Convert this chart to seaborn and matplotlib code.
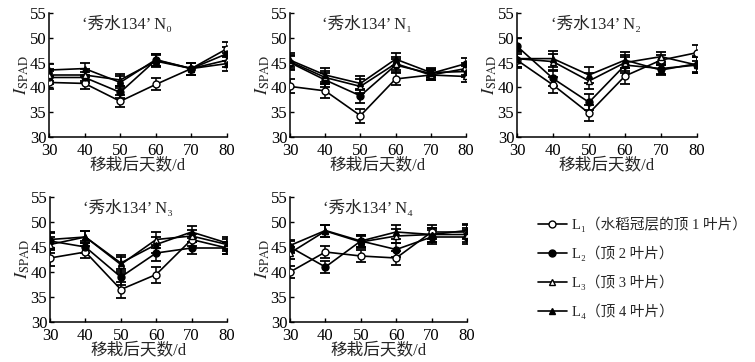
import numpy as np
import pandas as pd
import seaborn as sns
import matplotlib.pyplot as plt

sns.set_style('ticks')
plt.rcParams['font.family'] = ['Liberation Serif', 'Noto Sans CJK SC', 'DejaVu Serif']
plt.rcParams['mathtext.fontset'] = 'stix'

days = [30, 40, 50, 60, 70, 80]
panels = ['N₀', 'N₁', 'N₂', 'N₃', 'N₄']

# SPAD means: one list per leaf position (L1..L4) per panel
n0_l1 = [41.0, 40.8, 37.2, 40.6, 43.8, 47.8]
n0_l2 = [42.0, 42.0, 39.0, 45.5, 43.8, 46.8]
n0_l3 = [42.5, 42.5, 41.5, 45.3, 43.8, 45.5]
n0_l4 = [43.5, 43.8, 41.0, 45.6, 43.8, 44.8]

n1_l1 = [40.2, 39.3, 34.3, 41.7, 42.5, 43.8]
n1_l2 = [45.0, 41.5, 38.3, 44.5, 42.8, 44.8]
n1_l3 = [45.2, 42.0, 40.2, 44.8, 42.5, 42.2]
n1_l4 = [45.5, 42.5, 40.8, 45.7, 43.0, 43.2]

n2_l1 = [45.5, 40.5, 34.8, 42.3, 45.5, 47.0]
n2_l2 = [48.3, 41.8, 37.0, 44.5, 43.8, 44.5]
n2_l3 = [45.8, 45.2, 41.3, 45.0, 46.2, 44.5]
n2_l4 = [45.8, 45.8, 42.5, 45.5, 43.5, 44.8]

n3_l1 = [42.8, 44.0, 36.5, 39.5, 46.5, 44.8]
n3_l2 = [46.2, 45.0, 39.0, 43.8, 44.8, 44.8]
n3_l3 = [45.5, 47.0, 41.5, 46.5, 47.2, 45.5]
n3_l4 = [46.5, 47.0, 41.8, 45.5, 48.0, 45.8]

n4_l1 = [40.0, 44.0, 43.2, 42.8, 48.0, 48.0]
n4_l2 = [45.0, 41.0, 46.2, 44.5, 47.0, 47.0]
n4_l3 = [43.8, 48.2, 46.0, 47.2, 47.5, 47.5]
n4_l4 = [45.3, 48.3, 46.2, 48.0, 47.5, 48.3]

# error bar half-lengths
n0_err = [1.3, 1.2, 1.2, 1.2, 1.2, 1.4]
n1_err = [1.4, 1.4, 1.4, 1.3, 1.0, 1.2]
n2_err = [1.6, 1.6, 1.6, 1.6, 1.0, 1.6]
n3_err = [1.6, 1.2, 1.6, 1.6, 1.2, 1.2]
n4_err = [1.2, 1.2, 1.2, 1.4, 1.4, 1.4]

data = {
    0: [n0_l1, n0_l2, n0_l3, n0_l4],
    1: [n1_l1, n1_l2, n1_l3, n1_l4],
    2: [n2_l1, n2_l2, n2_l3, n2_l4],
    3: [n3_l1, n3_l2, n3_l3, n3_l4],
    4: [n4_l1, n4_l2, n4_l3, n4_l4],
}
errs = [n0_err, n1_err, n2_err, n3_err, n4_err]

leaf_labels = ['L₁（水稻冠层的顶 1 叶片）', 'L₂（顶 2 叶片）',
               'L₃（顶 3 叶片）', 'L₄（顶 4 叶片）']
leaf_markers = ['o', 'o', '^', '^']
leaf_faces = ['white', 'black', 'white', 'black']

fig = plt.figure(figsize=(7.55, 3.62), dpi=100)
W, H = 755, 362
boxes = [(49, 13, 227, 137), (290, 13, 466, 137), (517, 13, 697, 137),
         (50, 197, 227, 322), (290, 197, 467, 322)]

handles = []
for i, (x0, y0, x1, y1) in enumerate(boxes):
    ax = fig.add_axes([x0 / W, 1 - y1 / H, (x1 - x0) / W, (y1 - y0) / H])
    for j, vals in enumerate(data[i]):
        df = pd.DataFrame({'day': days, 'spad': vals})
        ax.errorbar(df['day'], df['spad'], yerr=errs[i], fmt='none',
                    ecolor='black', elinewidth=1.1, capsize=3.5, capthick=1.3, zorder=2)
        sns.lineplot(data=df, x='day', y='spad', ax=ax, color='black', lw=1.2,
                     marker=leaf_markers[j], markersize=5, markerfacecolor=leaf_faces[j],
                     markeredgecolor='black', markeredgewidth=1.0, zorder=3)
        if i == 0:
            handles.append(ax.lines[-1])
    ax.set_xlim(30, 80)
    ax.set_ylim(30, 55)
    ax.set_xticks(days)
    ax.set_yticks([30, 35, 40, 45, 50, 55])
    ax.tick_params(direction='in', length=3, width=1, labelsize=12, colors='black')
    ax.tick_params(axis='x', pad=4)
    ax.tick_params(axis='y', pad=2)
    for s in ['top', 'right']:
        ax.spines[s].set_visible(False)
    for s in ['left', 'bottom']:
        ax.spines[s].set_linewidth(1.1)
        ax.spines[s].set_color('black')
    ax.set_xlabel('移栽后天数/d', fontsize=12, labelpad=-1)
    ax.set_ylabel(r'$I_{\mathrm{SPAD}}$', fontsize=13, labelpad=-1)
    ax.text(0.44, 0.91, '‘秀水134’ ' + panels[i], transform=ax.transAxes,
            ha='center', va='center', fontsize=12)

fig.legend(handles, leaf_labels, loc='upper left', bbox_to_anchor=(532 / W, 1 - 211 / H),
           frameon=False, fontsize=10.5, handlelength=2.0, handletextpad=0.35,
           labelspacing=0.92, borderaxespad=0)

fig.savefig('out.png', dpi=100)
